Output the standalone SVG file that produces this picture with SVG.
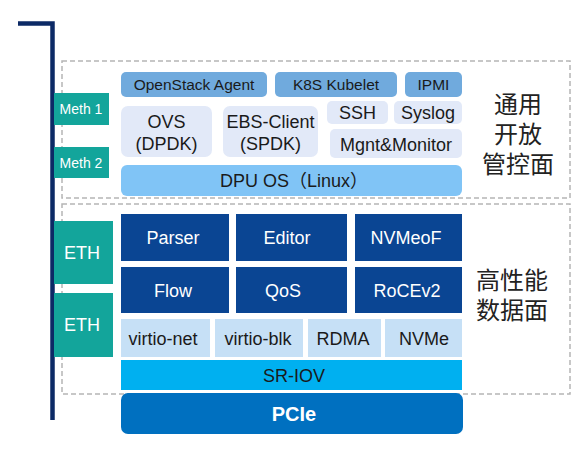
<svg xmlns="http://www.w3.org/2000/svg" width="581" height="466" viewBox="0 0 581 466">
<style>
text{font-family:"Liberation Sans",Arial,"Noto Sans CJK SC",sans-serif;text-anchor:middle;dominant-baseline:central}
.dash{fill:none;stroke:#b5b5b5;stroke-width:1.5;stroke-dasharray:5,3}
.teal{fill:#13a59b}
.tl{fill:#fff;font-size:14px}
.tl2{fill:#fff;font-size:18px}
.mid{fill:#70aadd}
.lav{fill:#e2e9f8}
.os{fill:#80c4f6}
.dk{fill:#0a4593}
.lt{fill:#c6e0f6}
.t14{font-size:15.5px;fill:#1a1a1a}
.t16{font-size:18px;fill:#1a1a1a}
.w16{font-size:18px;fill:#fff}
.cn{font-family:"Noto Sans CJK SC","Liberation Sans",sans-serif;font-size:24px;fill:#222;dominant-baseline:alphabetic}
</style>
<rect width="581" height="466" fill="#fff"/>
<g id="frames">
<rect class="dash" x="62" y="61" width="508" height="137"/>
<rect class="dash" x="62" y="204" width="508" height="190"/>
</g>
<g id="connectors">
<path d="M18 23.5H52.5V420" fill="none" stroke="#0c2a66" stroke-width="4.5"/>
</g>
<g id="meth1"><rect class="teal" x="54" y="93" width="55" height="32"/><text class="tl" x="81" y="109">Meth 1</text></g>
<g id="meth2"><rect class="teal" x="54" y="147" width="55" height="31"/><text class="tl" x="81" y="163">Meth 2</text></g>
<g id="eth1"><rect class="teal" x="54" y="221" width="59" height="63"/><text class="tl2" x="82" y="252.5">ETH</text></g>
<g id="eth2"><rect class="teal" x="54" y="293" width="59" height="64"/><text class="tl2" x="82" y="324.5">ETH</text></g>
<g id="openstack"><rect class="mid" x="121" y="72" width="146" height="25" rx="5"/><text class="t14" x="194" y="84.5">OpenStack Agent</text></g>
<g id="k8s"><rect class="mid" x="275" y="72" width="122" height="25" rx="5"/><text class="t14" x="336" y="84.5">K8S Kubelet</text></g>
<g id="ipmi"><rect class="mid" x="405" y="72" width="57" height="25" rx="5"/><text class="t14" x="433.5" y="84.5">IPMI</text></g>
<g id="ovs"><rect class="lav" x="121" y="106" width="91" height="51" rx="7"/><text class="t16" x="166.5" y="122">OVS</text><text class="t16" x="166.5" y="143.5">(DPDK)</text></g>
<g id="ebs"><rect class="lav" x="223" y="106" width="95" height="51" rx="7"/><text class="t16" x="270.5" y="122">EBS-Client</text><text class="t16" x="270.5" y="143.5">(SPDK)</text></g>
<g id="ssh"><rect class="lav" x="327" y="101" width="61" height="23" rx="5"/><text class="t16" x="357.5" y="113">SSH</text></g>
<g id="syslog"><rect class="lav" x="394" y="101" width="68" height="23" rx="5"/><text class="t16" x="428" y="113">Syslog</text></g>
<g id="mgnt"><rect class="lav" x="330" y="129" width="132" height="29" rx="5"/><text class="t16" x="396" y="144.5">Mgnt&amp;Monitor</text></g>
<g id="dpuos"><rect class="os" x="121" y="165" width="341" height="31" rx="6"/><text class="t16" x="294" y="180.5">DPU OS（Linux）</text></g>
<g id="ctrl-label"><text class="cn" x="518" y="113">通用<tspan x="518" dy="30">开放</tspan><tspan x="518" dy="30">管控面</tspan></text></g>
<g id="parser"><rect class="dk" x="121" y="214" width="108" height="47"/><text class="w16" x="173" y="238">Parser</text></g>
<g id="editor"><rect class="dk" x="236" y="214" width="111" height="47"/><text class="w16" x="287" y="238">Editor</text></g>
<g id="nvmeof"><rect class="dk" x="355" y="214" width="107" height="47"/><text class="w16" x="406" y="238">NVMeoF</text></g>
<g id="flow"><rect class="dk" x="121" y="267" width="108" height="46"/><text class="w16" x="173" y="290.5">Flow</text></g>
<g id="qos"><rect class="dk" x="236" y="267" width="111" height="46"/><text class="w16" x="283" y="290.5">QoS</text></g>
<g id="rocev2"><rect class="dk" x="355" y="267" width="107" height="46"/><text class="w16" x="407" y="290.5">RoCEv2</text></g>
<g id="virtionet"><rect class="lt" x="121" y="319" width="89" height="38"/><text class="t16" x="163" y="339">virtio-net</text></g>
<g id="virtioblk"><rect class="lt" x="215" y="319" width="88" height="38"/><text class="t16" x="258" y="339">virtio-blk</text></g>
<g id="rdma"><rect class="lt" x="308" y="319" width="73" height="38"/><text class="t16" x="343" y="339">RDMA</text></g>
<g id="nvme"><rect class="lt" x="385" y="319" width="77" height="38"/><text class="t16" x="424" y="339">NVMe</text></g>
<g id="sriov"><rect fill="#00b0f0" x="121" y="360" width="341" height="30"/><text class="t16" x="294" y="375.5">SR-IOV</text></g>
<g id="pcie"><rect fill="#0070c0" x="121" y="393" width="342" height="41" rx="7"/><text x="294" y="413.5" style="font-size:20px;font-weight:bold;fill:#fff">PCIe</text></g>
<g id="data-label"><text class="cn" x="512" y="289">高性能<tspan x="512" dy="30">数据面</tspan></text></g>
</svg>
